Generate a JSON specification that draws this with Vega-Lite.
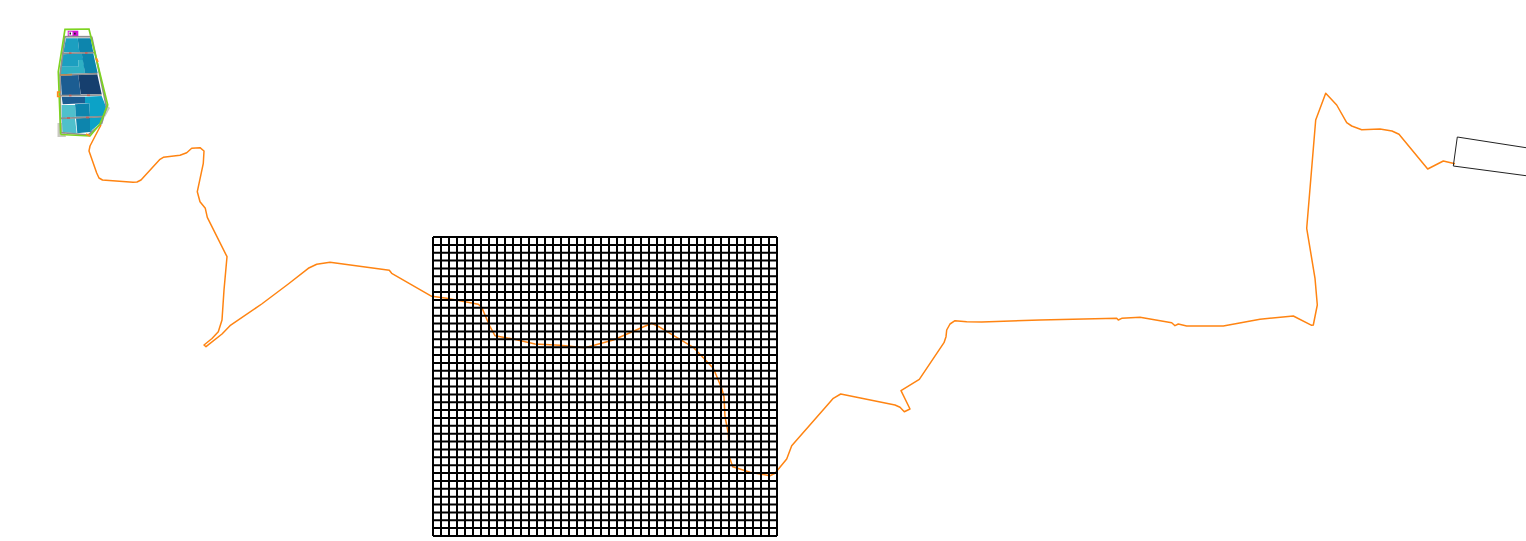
{"$schema":"https://vega.github.io/schema/vega-lite/v6.json","width":1526,"height":541,"padding":0,"autosize":"none","background":"white","config":{"view":{"stroke":null}},
"datasets":{
"route":[{"i":0,"x":101,"y":125},{"i":1,"x":98.3,"y":130},{"i":2,"x":90,"y":146},{"i":3,"x":89,"y":151},{"i":4,"x":96.7,"y":173},{"i":5,"x":99,"y":178},{"i":6,"x":102.5,"y":180},{"i":7,"x":133,"y":182.3},{"i":8,"x":137,"y":182},{"i":9,"x":141,"y":180},{"i":10,"x":160,"y":159.3},{"i":11,"x":163.3,"y":157.3},{"i":12,"x":180,"y":155.3},{"i":13,"x":186.7,"y":152.7},{"i":14,"x":191.7,"y":148.3},{"i":15,"x":200,"y":147.7},{"i":16,"x":204,"y":151},{"i":17,"x":203.3,"y":163.3},{"i":18,"x":197.3,"y":191.7},{"i":19,"x":200,"y":201.7},{"i":20,"x":205.3,"y":208.3},{"i":21,"x":207.3,"y":217.3},{"i":22,"x":227,"y":256.7},{"i":23,"x":224,"y":290},{"i":24,"x":222,"y":320},{"i":25,"x":218.3,"y":331.7},{"i":26,"x":212,"y":338.5},{"i":27,"x":204,"y":345},{"i":28,"x":206,"y":346.7},{"i":29,"x":222,"y":334},{"i":30,"x":230,"y":325.7},{"i":31,"x":261.7,"y":304},{"i":32,"x":288.3,"y":284},{"i":33,"x":308.3,"y":268.3},{"i":34,"x":316.7,"y":264.3},{"i":35,"x":330,"y":262.3},{"i":36,"x":389.3,"y":270.3},{"i":37,"x":391.7,"y":273.3},{"i":38,"x":431.7,"y":296.3},{"i":39,"x":446.7,"y":298.3},{"i":40,"x":478.3,"y":304.3},{"i":41,"x":481.7,"y":307.3},{"i":42,"x":490,"y":326.7},{"i":43,"x":495,"y":335.7},{"i":44,"x":513.3,"y":339},{"i":45,"x":535,"y":344},{"i":46,"x":560,"y":345.3},{"i":47,"x":585,"y":347.7},{"i":48,"x":613.3,"y":340},{"i":49,"x":651.7,"y":323.3},{"i":50,"x":660,"y":327.3},{"i":51,"x":693.3,"y":347.3},{"i":52,"x":713.3,"y":368.3},{"i":53,"x":721.7,"y":388.3},{"i":54,"x":724,"y":396.7},{"i":55,"x":725,"y":416.7},{"i":56,"x":728.3,"y":433.3},{"i":57,"x":729.3,"y":456.7},{"i":58,"x":732.7,"y":466.7},{"i":59,"x":750,"y":472.3},{"i":60,"x":770,"y":475.7},{"i":61,"x":775,"y":473.3},{"i":62,"x":786.7,"y":459},{"i":63,"x":791.7,"y":445.7},{"i":64,"x":828.3,"y":404},{"i":65,"x":833.3,"y":398.3},{"i":66,"x":840.7,"y":394},{"i":67,"x":895,"y":405},{"i":68,"x":900,"y":407.3},{"i":69,"x":904.3,"y":411.7},{"i":70,"x":910,"y":409},{"i":71,"x":901,"y":390.7},{"i":72,"x":919.3,"y":379.3},{"i":73,"x":944,"y":342.7},{"i":74,"x":946,"y":336.7},{"i":75,"x":946.7,"y":330},{"i":76,"x":950,"y":324},{"i":77,"x":955,"y":320.7},{"i":78,"x":966.7,"y":321.7},{"i":79,"x":981.7,"y":322},{"i":80,"x":1040,"y":320},{"i":81,"x":1116.7,"y":318.3},{"i":82,"x":1118.3,"y":320},{"i":83,"x":1121.7,"y":318.3},{"i":84,"x":1140,"y":317.3},{"i":85,"x":1171.7,"y":322.7},{"i":86,"x":1175,"y":325.7},{"i":87,"x":1178.3,"y":324},{"i":88,"x":1186.7,"y":326},{"i":89,"x":1223.3,"y":326},{"i":90,"x":1260,"y":319.3},{"i":91,"x":1293.3,"y":316},{"i":92,"x":1311.7,"y":325.3},{"i":93,"x":1313.3,"y":325},{"i":94,"x":1317.3,"y":305},{"i":95,"x":1315,"y":278.3},{"i":96,"x":1306.7,"y":228.3},{"i":97,"x":1315.7,"y":120},{"i":98,"x":1325.7,"y":93.3},{"i":99,"x":1336.7,"y":105},{"i":100,"x":1346.7,"y":122.7},{"i":101,"x":1351.7,"y":126},{"i":102,"x":1361.7,"y":129.7},{"i":103,"x":1380,"y":129},{"i":104,"x":1392,"y":131},{"i":105,"x":1399,"y":134.3},{"i":106,"x":1427.7,"y":169},{"i":107,"x":1443.3,"y":161},{"i":108,"x":1455,"y":163.7}],
"building":[{"i":0,"x":1526,"y":147.7},{"i":1,"x":1457.3,"y":137},{"i":2,"x":1453.3,"y":166},{"i":3,"x":1526,"y":175.7}],
"gridV":[{"x":433},{"x":441},{"x":449},{"x":457},{"x":465},{"x":473},{"x":481},{"x":489},{"x":497},{"x":505},{"x":513},{"x":521},{"x":529},{"x":537},{"x":545},{"x":553},{"x":561},{"x":569},{"x":577},{"x":585},{"x":593},{"x":601},{"x":609},{"x":617},{"x":625},{"x":633},{"x":641},{"x":649},{"x":657},{"x":665},{"x":673},{"x":681},{"x":689},{"x":697},{"x":705},{"x":713},{"x":721},{"x":729},{"x":737},{"x":745},{"x":753},{"x":761},{"x":769},{"x":777}],
"gridH":[{"y":237},{"y":244.9},{"y":252.7},{"y":260.6},{"y":268.5},{"y":276.3},{"y":284.2},{"y":292.1},{"y":299.9},{"y":307.8},{"y":315.7},{"y":323.5},{"y":331.4},{"y":339.3},{"y":347.2},{"y":355},{"y":362.9},{"y":370.8},{"y":378.6},{"y":386.5},{"y":394.4},{"y":402.2},{"y":410.1},{"y":418},{"y":425.8},{"y":433.7},{"y":441.6},{"y":449.4},{"y":457.3},{"y":465.2},{"y":473.1},{"y":480.9},{"y":488.8},{"y":496.7},{"y":504.5},{"y":512.4},{"y":520.3},{"y":528.1},{"y":536}],
"plots":[
{"id":"halo","kind":"halo","i":0,"x":57.5,"y":123},{"id":"halo","kind":"halo","i":1,"x":62,"y":123},{"id":"halo","kind":"halo","i":2,"x":66,"y":137},{"id":"halo","kind":"halo","i":3,"x":57.5,"y":137},
{"id":"halo2","kind":"halo","i":0,"x":105,"y":103},{"id":"halo2","kind":"halo","i":1,"x":110,"y":108},{"id":"halo2","kind":"halo","i":2,"x":105,"y":117},
{"id":"f1","kind":"teal","i":0,"x":66,"y":38.3},{"id":"f1","kind":"teal","i":1,"x":77.7,"y":38.3},{"id":"f1","kind":"teal","i":2,"x":79.3,"y":52.3},{"id":"f1","kind":"teal","i":3,"x":63.3,"y":52.3},
{"id":"f2","kind":"blue","i":0,"x":77.7,"y":38.3},{"id":"f2","kind":"blue","i":1,"x":90.7,"y":38.3},{"id":"f2","kind":"blue","i":2,"x":93.3,"y":52.3},{"id":"f2","kind":"blue","i":3,"x":79.3,"y":52.3},
{"id":"f3","kind":"teal","i":0,"x":62.7,"y":54.3},{"id":"f3","kind":"teal","i":1,"x":81.7,"y":53.3},{"id":"f3","kind":"teal","i":2,"x":83.3,"y":60},{"id":"f3","kind":"teal","i":3,"x":78.3,"y":60},{"id":"f3","kind":"teal","i":4,"x":78.3,"y":66.7},{"id":"f3","kind":"teal","i":5,"x":60.7,"y":66.7},
{"id":"f3b","kind":"light","i":0,"x":60.7,"y":66.7},{"id":"f3b","kind":"light","i":1,"x":78.3,"y":66.7},{"id":"f3b","kind":"light","i":2,"x":78.3,"y":60},{"id":"f3b","kind":"light","i":3,"x":83.3,"y":60},{"id":"f3b","kind":"light","i":4,"x":85,"y":73.3},{"id":"f3b","kind":"light","i":5,"x":60,"y":74.3},
{"id":"f4","kind":"blue","i":0,"x":81.7,"y":53.3},{"id":"f4","kind":"blue","i":1,"x":93.3,"y":53.3},{"id":"f4","kind":"blue","i":2,"x":97.7,"y":73.3},{"id":"f4","kind":"blue","i":3,"x":85,"y":73.3},
{"id":"f5","kind":"navy","i":0,"x":60.7,"y":75.5},{"id":"f5","kind":"navy","i":1,"x":78.3,"y":75},{"id":"f5","kind":"navy","i":2,"x":80.7,"y":95},{"id":"f5","kind":"navy","i":3,"x":61.7,"y":95},
{"id":"f6","kind":"darknavy","i":0,"x":78.3,"y":75},{"id":"f6","kind":"darknavy","i":1,"x":97.3,"y":74.3},{"id":"f6","kind":"darknavy","i":2,"x":101.7,"y":94.3},{"id":"f6","kind":"darknavy","i":3,"x":80.7,"y":94.3},
{"id":"f7","kind":"navy","i":0,"x":61.7,"y":96.7},{"id":"f7","kind":"navy","i":1,"x":85,"y":96.7},{"id":"f7","kind":"navy","i":2,"x":85,"y":103.3},{"id":"f7","kind":"navy","i":3,"x":62.7,"y":104.3},
{"id":"f8","kind":"cyan","i":0,"x":85,"y":96.7},{"id":"f8","kind":"cyan","i":1,"x":101.7,"y":96},{"id":"f8","kind":"cyan","i":2,"x":106,"y":106.7},{"id":"f8","kind":"cyan","i":3,"x":103.3,"y":116.7},{"id":"f8","kind":"cyan","i":4,"x":90,"y":116.7},{"id":"f8","kind":"cyan","i":5,"x":89.3,"y":103.3},{"id":"f8","kind":"cyan","i":6,"x":85,"y":103.3},
{"id":"f9","kind":"aqua","i":0,"x":61.7,"y":105},{"id":"f9","kind":"aqua","i":1,"x":75,"y":105},{"id":"f9","kind":"aqua","i":2,"x":76,"y":116.7},{"id":"f9","kind":"aqua","i":3,"x":61.7,"y":118.3},
{"id":"f10","kind":"blue","i":0,"x":75,"y":104.3},{"id":"f10","kind":"blue","i":1,"x":89.3,"y":103.3},{"id":"f10","kind":"blue","i":2,"x":90,"y":116.7},{"id":"f10","kind":"blue","i":3,"x":76,"y":116.7},
{"id":"f11","kind":"aqua","i":0,"x":61.7,"y":119},{"id":"f11","kind":"aqua","i":1,"x":75,"y":118.3},{"id":"f11","kind":"aqua","i":2,"x":76.7,"y":133.3},{"id":"f11","kind":"aqua","i":3,"x":62.7,"y":132.3},
{"id":"f12","kind":"blue","i":0,"x":76,"y":118.3},{"id":"f12","kind":"blue","i":1,"x":90,"y":117.7},{"id":"f12","kind":"blue","i":2,"x":91.7,"y":131.7},{"id":"f12","kind":"blue","i":3,"x":77.3,"y":133.3},
{"id":"f13","kind":"cyan","i":0,"x":90,"y":117.7},{"id":"f13","kind":"cyan","i":1,"x":103.3,"y":116.7},{"id":"f13","kind":"cyan","i":2,"x":100,"y":123.3},{"id":"f13","kind":"cyan","i":3,"x":90,"y":131.7},
{"id":"m","kind":"magenta","i":0,"x":67.7,"y":30.7},{"id":"m","kind":"magenta","i":1,"x":78.3,"y":30.7},{"id":"m","kind":"magenta","i":2,"x":78.3,"y":36},{"id":"m","kind":"magenta","i":3,"x":67.7,"y":36},
{"id":"w","kind":"white","i":0,"x":68.7,"y":31.7},{"id":"w","kind":"white","i":1,"x":72.5,"y":31.7},{"id":"w","kind":"white","i":2,"x":72.5,"y":35.5},{"id":"w","kind":"white","i":3,"x":68.7,"y":35.5},
{"id":"d1","kind":"dark","i":0,"x":69.5,"y":32.5},{"id":"d1","kind":"dark","i":1,"x":71,"y":32.5},{"id":"d1","kind":"dark","i":2,"x":71,"y":34.5},{"id":"d1","kind":"dark","i":3,"x":69.5,"y":34.5},
{"id":"d2","kind":"dark","i":0,"x":74,"y":32.8},{"id":"d2","kind":"dark","i":1,"x":75.7,"y":32.8},{"id":"d2","kind":"dark","i":2,"x":75.7,"y":34.6},{"id":"d2","kind":"dark","i":3,"x":74,"y":34.6}
],
"lines":[
{"id":"r1","kind":"road","i":0,"x":64,"y":36.7},{"id":"r1","kind":"road","i":1,"x":91.7,"y":36.7},
{"id":"r2","kind":"road","i":0,"x":61.7,"y":53.3},{"id":"r2","kind":"road","i":1,"x":95,"y":52.7},
{"id":"r3","kind":"road","i":0,"x":60,"y":75},{"id":"r3","kind":"road","i":1,"x":97.3,"y":73.7},
{"id":"r4","kind":"road","i":0,"x":60.7,"y":95.7},{"id":"r4","kind":"road","i":1,"x":101.7,"y":95},
{"id":"r5","kind":"road","i":0,"x":60.7,"y":118.3},{"id":"r5","kind":"road","i":1,"x":103.3,"y":116.7},
{"id":"r6","kind":"road","i":0,"x":65,"y":36.7},{"id":"r6","kind":"road","i":1,"x":60,"y":75},{"id":"r6","kind":"road","i":2,"x":60.7,"y":132.5},{"id":"r6","kind":"road","i":3,"x":88.3,"y":135},{"id":"r6","kind":"road","i":4,"x":101.7,"y":123.3},{"id":"r6","kind":"road","i":5,"x":106.5,"y":107},{"id":"r6","kind":"road","i":6,"x":91.7,"y":36.7},
{"id":"green","kind":"green","i":0,"x":60.7,"y":134.5},{"id":"green","kind":"green","i":1,"x":58.3,"y":71.7},{"id":"green","kind":"green","i":2,"x":65,"y":29.3},{"id":"green","kind":"green","i":3,"x":89,"y":29},{"id":"green","kind":"green","i":4,"x":107.7,"y":105},{"id":"green","kind":"green","i":5,"x":100,"y":124},{"id":"green","kind":"green","i":6,"x":90,"y":136},{"id":"green","kind":"green","i":7,"x":60.7,"y":134.5},
{"id":"t1","kind":"tan","i":0,"x":60,"y":75},{"id":"t1","kind":"tan","i":1,"x":72,"y":74.7},
{"id":"o1","kind":"orange","i":0,"x":96,"y":58},{"id":"o1","kind":"orange","i":1,"x":98,"y":62},
{"id":"o2","kind":"orange","i":0,"x":60.5,"y":92},{"id":"o2","kind":"orange","i":1,"x":57.7,"y":92},{"id":"o2","kind":"orange","i":2,"x":57.7,"y":96.5},{"id":"o2","kind":"orange","i":3,"x":60.5,"y":96.5},
{"id":"o3","kind":"orange","i":0,"x":86,"y":134},{"id":"o3","kind":"orange","i":1,"x":90,"y":136},
{"id":"c1","kind":"red","i":0,"x":69,"y":53.2},{"id":"c1","kind":"red","i":1,"x":71.5,"y":53.2},
{"id":"c2","kind":"red","i":0,"x":85,"y":53},{"id":"c2","kind":"red","i":1,"x":87.5,"y":53},
{"id":"c3","kind":"red","i":0,"x":69,"y":95.5},{"id":"c3","kind":"red","i":1,"x":71.5,"y":95.5},
{"id":"c4","kind":"red","i":0,"x":87,"y":95.3},{"id":"c4","kind":"red","i":1,"x":90,"y":95.3},
{"id":"c5","kind":"red","i":0,"x":67,"y":118},{"id":"c5","kind":"red","i":1,"x":70,"y":118},
{"id":"c6","kind":"red","i":0,"x":86,"y":117.5},{"id":"c6","kind":"red","i":1,"x":89,"y":117.5}
]},
"layer":[
{"data":{"name":"plots"},"mark":{"type":"line","filled":true,"strokeWidth":0},"encoding":{"x":{"field":"x","type":"quantitative","axis":null,"scale":{"domain":[0,1526],"nice":false,"zero":false}},"y":{"field":"y","type":"quantitative","axis":null,"scale":{"domain":[541,0],"nice":false,"zero":false}},"detail":{"field":"id"},"order":{"field":"i"},"fill":{"field":"kind","type":"nominal","legend":null,"scale":{"domain":["halo","teal","blue","light","navy","darknavy","cyan","aqua","magenta","white","dark"],"range":["#c9c9c1","#1c9fc0","#0d85ad","#2fb0c4","#1c5d92","#163f6e","#0ca2c7","#4fc0cc","#d414d4","#ffffff","#222222"]}}}},
{"data":{"name":"lines"},"mark":{"type":"line","strokeWidth":1.7},"encoding":{"x":{"field":"x","type":"quantitative","axis":null,"scale":{"domain":[0,1526],"nice":false,"zero":false}},"y":{"field":"y","type":"quantitative","axis":null,"scale":{"domain":[541,0],"nice":false,"zero":false}},"detail":{"field":"id"},"order":{"field":"i"},"color":{"field":"kind","type":"nominal","legend":null,"scale":{"domain":["green","road","tan","orange","red"],"range":["#7ed321","#8f8f8f","#b98a55","#ff8c1a","#c0605a"]}}}},
{"data":{"name":"route"},"mark":{"type":"line","color":"#ff8412","strokeWidth":1.5,"strokeJoin":"round"},"encoding":{"x":{"field":"x","type":"quantitative","axis":null,"scale":{"domain":[0,1526],"nice":false,"zero":false}},"y":{"field":"y","type":"quantitative","axis":null,"scale":{"domain":[541,0],"nice":false,"zero":false}},"order":{"field":"i"}}},
{"data":{"name":"building"},"mark":{"type":"line","color":"#222222","strokeWidth":1},"encoding":{"x":{"field":"x","type":"quantitative","axis":null,"scale":{"domain":[0,1526],"nice":false,"zero":false}},"y":{"field":"y","type":"quantitative","axis":null,"scale":{"domain":[541,0],"nice":false,"zero":false}},"order":{"field":"i"}}},
{"data":{"name":"gridV"},"mark":{"type":"rule","color":"#000000","strokeWidth":2},"encoding":{"x":{"field":"x","type":"quantitative","axis":null,"scale":{"domain":[0,1526],"nice":false,"zero":false}},"y":{"datum":237,"axis":null,"scale":{"domain":[541,0],"nice":false,"zero":false}},"y2":{"datum":536}}},
{"data":{"name":"gridH"},"mark":{"type":"rule","color":"#000000","strokeWidth":2},"encoding":{"y":{"field":"y","type":"quantitative","axis":null,"scale":{"domain":[541,0],"nice":false,"zero":false}},"x":{"datum":433,"axis":null,"scale":{"domain":[0,1526],"nice":false,"zero":false}},"x2":{"datum":777}}}
]}
